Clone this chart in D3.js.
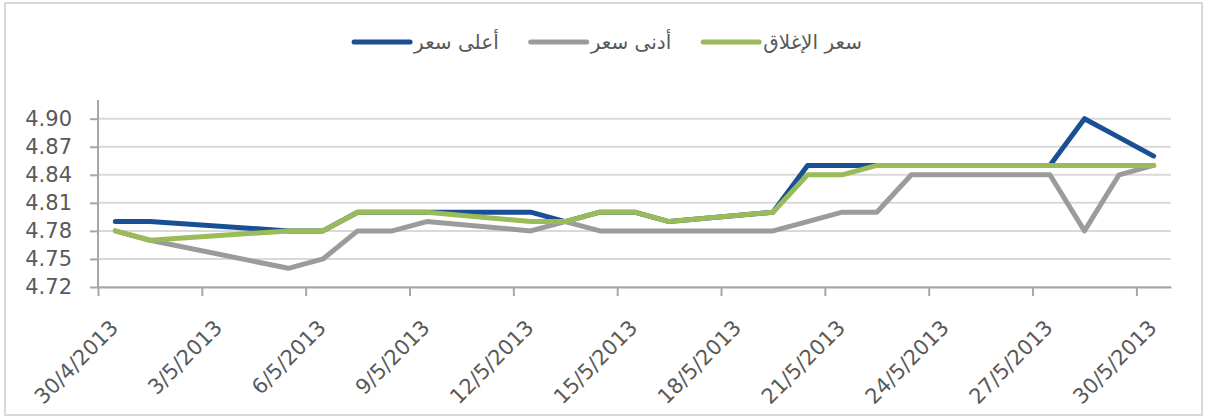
<!DOCTYPE html>
<meta charset="utf-8">

<!-- Load d3.js -->
<script src="https://d3js.org/d3.v7.min.js"></script>

<style>
  body { margin: 0; background: #fff; }
</style>

<!-- Create a div where the graph will take place -->
<div id="my_dataviz"></div>

<script>

// the data (trading days only)
var dates = ["2013-04-30","2013-05-01","2013-05-05","2013-05-06","2013-05-07","2013-05-08",
             "2013-05-09","2013-05-12","2013-05-13","2013-05-14","2013-05-15","2013-05-16",
             "2013-05-19","2013-05-20","2013-05-21","2013-05-22","2013-05-23","2013-05-26",
             "2013-05-27","2013-05-28","2013-05-29","2013-05-30"];
var highPrice  = [4.79,4.79,4.78,4.78,4.80,4.80,4.80,4.80,4.79,4.80,4.80,4.79,4.80,4.85,4.85,4.85,4.85,4.85,4.85,4.90,4.88,4.86];
var lowPrice   = [4.78,4.77,4.74,4.75,4.78,4.78,4.79,4.78,4.79,4.78,4.78,4.78,4.78,4.79,4.80,4.80,4.84,4.84,4.84,4.78,4.84,4.85];
var closePrice = [4.78,4.77,4.78,4.78,4.80,4.80,4.80,4.79,4.79,4.80,4.80,4.79,4.80,4.84,4.84,4.85,4.85,4.85,4.85,4.85,4.85,4.85];

var seriesNames  = ["أعلى سعر", "أدنى سعر", "سعر الإغلاق"];
var seriesColors = ["#1b4f94", "#9b9b9b", "#9bbb59"];

// axis ticks
var xTicks = ["2013-04-30","2013-05-03","2013-05-06","2013-05-09","2013-05-12","2013-05-15",
              "2013-05-18","2013-05-21","2013-05-24","2013-05-27","2013-05-30"];
var yTicks = [4.72, 4.75, 4.78, 4.81, 4.84, 4.87, 4.90];

var W = 1205, H = 417;
var plotLeft = 98, plotRight = 1171, plotTop = 100, plotBottom = 287;
var font = "'DejaVu Sans', sans-serif";

var parse = d3.utcParse("%Y-%m-%d");
var fmt = function(d) { return d.getUTCDate() + "/" + (d.getUTCMonth() + 1) + "/" + d.getUTCFullYear(); };

var svg = d3.select("#my_dataviz")
  .append("svg")
    .attr("width", W)
    .attr("height", H);

// outer chart border
svg.append("rect")
    .attr("x", 5).attr("y", 3)
    .attr("width", 1197).attr("height", 412)
    .attr("fill", "none")
    .attr("stroke", "#d9d9d9")
    .attr("stroke-width", 2);

// scales: one band per day, points sit in the middle of their day
var x = d3.scaleUtc()
    .domain([parse("2013-04-30"), parse("2013-05-31")])
    .range([plotLeft, plotRight]);
var y = d3.scaleLinear()
    .domain([4.72, 4.92])
    .range([plotBottom, plotTop]);

var mid = function(s) { return d3.utcHour.offset(parse(s), 12); };

// gridlines
svg.append("g")
  .selectAll("line")
  .data(yTicks)
  .enter()
  .append("line")
    .attr("x1", plotLeft).attr("x2", plotRight)
    .attr("y1", function(d) { return y(d); })
    .attr("y2", function(d) { return y(d); })
    .attr("stroke", "#d9d9d9")
    .attr("stroke-width", 2);

// Y axis
var yAxis = svg.append("g")
    .attr("transform", "translate(" + plotLeft + ",0)")
    .call(d3.axisLeft(y).tickValues(yTicks).tickFormat(d3.format(".2f")).tickSize(8).tickPadding(18).tickSizeOuter(0));
yAxis.select(".domain").attr("stroke", "#a6a6a6").attr("stroke-width", 2)
    .attr("d", "M0," + plotTop + "V" + plotBottom);
yAxis.selectAll(".tick line").attr("stroke", "#a6a6a6").attr("stroke-width", 2);
yAxis.selectAll("text")
    .attr("fill", "#595959")
    .style("font-family", font)
    .style("font-size", "21px");

// X axis
var xAxis = svg.append("g")
    .attr("transform", "translate(0," + plotBottom + ")")
    .call(d3.axisBottom(x).tickValues(xTicks.map(parse)).tickFormat(fmt).tickSize(9).tickSizeOuter(0));
xAxis.select(".domain").attr("stroke", "#a6a6a6").attr("stroke-width", 2);
xAxis.selectAll(".tick line").attr("stroke", "#a6a6a6").attr("stroke-width", 2);
xAxis.selectAll("text")
    .attr("fill", "#595959")
    .attr("y", 0)
    .attr("dy", null)
    .attr("text-anchor", "end")
    .attr("transform", "translate(21,42) rotate(-45)")
    .style("font-family", font)
    .style("font-size", "21px");

// the three lines
var series = [highPrice, lowPrice, closePrice];
var line = d3.line()
    .x(function(d, i) { return x(mid(dates[i])); })
    .y(function(d) { return y(d); });

svg.append("g")
  .selectAll("path")
  .data(series)
  .enter()
  .append("path")
    .attr("d", line)
    .attr("fill", "none")
    .attr("stroke", function(d, i) { return seriesColors[i]; })
    .attr("stroke-width", 5)
    .attr("stroke-linejoin", "round")
    .attr("stroke-linecap", "round");

// legend, centred over the chart
var legend = svg.append("g");
var items = legend.selectAll("g")
  .data(seriesNames)
  .enter()
  .append("g");
items.append("line")
    .attr("x1", 0).attr("x2", 56)
    .attr("y1", 0).attr("y2", 0)
    .attr("stroke", function(d, i) { return seriesColors[i]; })
    .attr("stroke-width", 5)
    .attr("stroke-linecap", "round");
items.append("text")
    .attr("x", 60)
    .attr("y", 7)
    .attr("fill", "#595959")
    .style("font-family", font)
    .style("font-size", "20px")
    .text(function(d) { return d; });

var pos = 0;
items.each(function() {
  var w = 60 + this.querySelector("text").getComputedTextLength();
  d3.select(this).attr("transform", "translate(" + pos + ",0)");
  pos += w + 32;
});
pos -= 32;
legend.attr("transform", "translate(" + (608 - pos / 2) + ",42)");

</script>
